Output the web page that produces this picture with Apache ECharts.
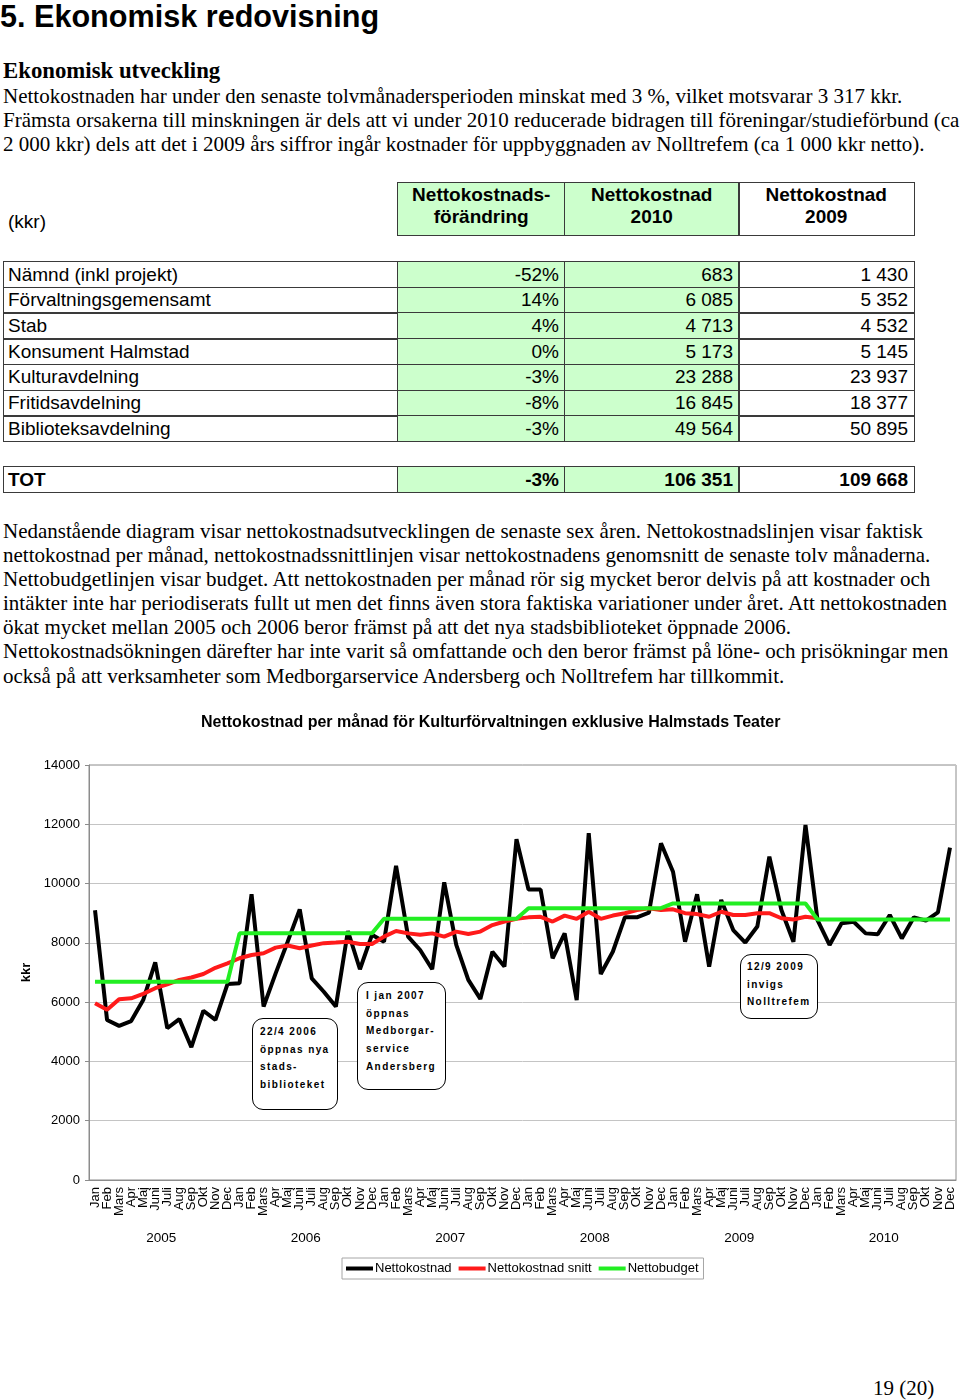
<!DOCTYPE html>
<html><head><meta charset="utf-8">
<script src="https://cdn.jsdelivr.net/npm/echarts@6/dist/echarts.min.js"></script>
<style>
html,body{margin:0;padding:0;background:#fff;}
body{width:960px;height:1400px;position:relative;overflow:hidden;}
.abs{position:absolute;white-space:nowrap;color:#000;}
.serif{font-family:"Liberation Serif","Times New Roman",serif;}
.sans{font-family:"Liberation Sans",Arial,sans-serif;}
.cell{position:absolute;box-sizing:border-box;border:1.5px solid #3a3a3a;display:flex;align-items:center;font-family:"Liberation Sans",Arial,sans-serif;font-size:19px;color:#000;white-space:nowrap;}
.g{background:#ccffcc;}
.note{position:absolute;box-sizing:border-box;border:1.3px solid #000;border-radius:11px;background:#fff;font-family:"Liberation Sans",Arial,sans-serif;font-weight:bold;font-size:10px;letter-spacing:1.4px;line-height:17.7px;color:#000;white-space:nowrap;z-index:5;}
#chart{position:absolute;left:0;top:700px;width:960px;height:600px;}
</style></head>
<body>
<div class="abs sans" style="left:0;top:-1px;font-size:30.6px;font-weight:bold;line-height:34px;">5. Ekonomisk redovisning</div>
<div class="abs serif" style="left:3px;top:58px;font-size:22.8px;font-weight:bold;line-height:26px;">Ekonomisk utveckling</div>
<div class="abs serif" style="left:3px;top:83.5px;font-size:21px;line-height:24px;">Nettokostnaden har under den senaste tolvmånadersperioden minskat med 3 %, vilket motsvarar 3 317 kkr.<br>Främsta orsakerna till minskningen är dels att vi under 2010 reducerade bidragen till föreningar/studieförbund (ca<br>2 000 kkr) dels att det i 2009 års siffror ingår kostnader för uppbyggnaden av Nolltrefem (ca 1 000 kkr netto).</div>
<div class="abs sans" style="left:8px;top:210px;font-size:19px;line-height:24px;">(kkr)</div>
<div id="tbl"></div>
<div class="abs serif" style="left:3px;top:518.5px;font-size:21px;line-height:24.17px;">Nedanstående diagram visar nettokostnadsutvecklingen de senaste sex åren. Nettokostnadslinjen visar faktisk<br>nettokostnad per månad, nettokostnadssnittlinjen visar nettokostnadens genomsnitt de senaste tolv månaderna.<br>Nettobudgetlinjen visar budget. Att nettokostnaden per månad rör sig mycket beror delvis på att kostnader och<br>intäkter inte har periodiserats fullt ut men det finns även stora faktiska variationer under året. Att nettokostnaden<br>ökat mycket mellan 2005 och 2006 beror främst på att det nya stadsbiblioteket öppnade 2006.<br>Nettokostnadsökningen därefter har inte varit så omfattande och den beror främst på löne- och prisökningar men<br>också på att verksamheter som Medborgarservice Andersberg och Nolltrefem har tillkommit.</div>
<div id="chart"></div>
<div class="note" style="left:252px;top:1018px;width:86px;height:92px;padding:4px 0 0 7px;">22/4 2006<br>öppnas nya<br>stads-<br>biblioteket</div>
<div class="note" style="left:357px;top:982px;width:89px;height:108px;padding:4px 0 0 8px;">I jan 2007<br>öppnas<br>Medborgar-<br>service<br>Andersberg</div>
<div class="note" style="left:740px;top:954px;width:78px;height:65px;padding:3px 0 0 6px;">12/9 2009<br>invigs<br>Nolltrefem</div>
<div class="abs serif" style="left:873px;top:1375.5px;font-size:21px;line-height:24px;">19 (20)</div>
<script>
// ---- table data ----
const headerLabels = ["Nettokostnads-<br>förändring", "Nettokostnad<br>2010", "Nettokostnad<br>2009"];
const rowLabels = ["Nämnd (inkl projekt)", "Förvaltningsgemensamt", "Stab", "Konsument Halmstad", "Kulturavdelning", "Fritidsavdelning", "Biblioteksavdelning"];
const changePct = ["-52%", "14%", "4%", "0%", "-3%", "-8%", "-3%"];
const cost2010 = ["683", "6 085", "4 713", "5 173", "23 288", "16 845", "49 564"];
const cost2009 = ["1 430", "5 352", "4 532", "5 145", "23 937", "18 377", "50 895"];
const totLabel = "TOT";
const totChange = "-3%";
const tot2010 = "106 351";
const tot2009 = "109 668";

// ---- chart data ----
const chartTitle = "Nettokostnad per månad för Kulturförvaltningen exklusive Halmstads Teater";
const years = ["2005", "2006", "2007", "2008", "2009", "2010"];
const months = ["Jan", "Feb", "Mars", "Apr", "Maj", "Juni", "Juli", "Aug", "Sep", "Okt", "Nov", "Dec"];
const seriesNames = ["Nettokostnad", "Nettokostnad snitt", "Nettobudget"];
const nettokostnad = [
  9100, 5400, 5200, 5360, 6070, 7340, 5120, 5430, 4480, 5710, 5400, 6610,
  6640, 9640, 5850, 6970, 8040, 9130, 6800, 6350, 5850, 8400, 7110, 8270,
  8040, 10600, 8210, 7760, 7110, 10040, 7930, 6750, 6110, 7700, 7200, 11500,
  9800, 9800, 7480, 8320, 6070, 11700, 6950, 7700, 8860, 8860, 9020, 11360,
  10400, 8040, 9640, 7200, 9450, 8430, 8010, 8550, 10910, 9110, 8040, 11980,
  8770, 7930, 8660, 8710, 8320, 8290, 8940, 8150, 8860, 8750, 9030, 11210
];
const nettokostnadSnitt = [
  5960, 5740, 6100, 6130, 6280, 6470, 6600, 6750, 6830, 6950, 7160, 7310,
  7480, 7590, 7650, 7840, 7910, 7820, 7910, 7990, 8010, 8040, 7960, 7960,
  8210, 8400, 8320, 8270, 8320, 8210, 8380, 8300, 8380, 8600, 8720, 8810,
  8860, 8880, 8720, 8920, 8810, 9050, 8810, 8920, 9000, 9110, 9170, 9110,
  9130, 9000, 8970, 8880, 9050, 8940, 8940, 9000, 9000, 8830, 8790, 8880,
  8830, null, null, null, null, null, null, null, null, null, null, null
];
const nettobudget = [
  6690, 6690, 6690, 6690, 6690, 6690, 6690, 6690, 6690, 6690, 6690, 6690,
  8320, 8320, 8320, 8320, 8320, 8320, 8320, 8320, 8320, 8320, 8320, 8320,
  8810, 8810, 8810, 8810, 8810, 8810, 8810, 8810, 8810, 8810, 8810, 8810,
  9170, 9170, 9170, 9170, 9170, 9170, 9170, 9170, 9170, 9170, 9170, 9170,
  9330, 9330, 9330, 9330, 9330, 9330, 9330, 9330, 9330, 9330, 9330, 9330,
  8790, 8790, 8790, 8790, 8790, 8790, 8790, 8790, 8790, 8790, 8790, 8790
];
const yTicks = { min: 0, max: 14000, interval: 2000 };

// ---- build table ----
(function () {
  const tbl = document.getElementById('tbl');
  const colX = [3, 397, 564, 738, 913];
  function cell(x0, x1, y0, y1, html, cls, align, bold) {
    const d = document.createElement('div');
    d.className = 'cell ' + (cls || '');
    d.style.left = x0 + 'px';
    d.style.top = y0 + 'px';
    d.style.width = (x1 - x0 + 1.5) + 'px';
    d.style.height = (y1 - y0 + 1.5) + 'px';
    d.style.justifyContent = align === 'right' ? 'flex-end' : (align === 'center' ? 'center' : 'flex-start');
    d.style.padding = align === 'right' ? '0 5.5px 0 0' : '0 0 0 4px';
    if (bold) d.style.fontWeight = 'bold';
    d.innerHTML = html;
    tbl.appendChild(d);
    return d;
  }
  for (let c = 0; c < 3; c++) {
    const d = cell(colX[c + 1], colX[c + 2], 182, 234.5, headerLabels[c], c < 2 ? 'g' : '', 'center', true);
    d.style.alignItems = 'flex-start';
    d.style.textAlign = 'center';
    d.style.lineHeight = '22px';
    d.style.padding = '1px 0 0 0';
  }
  const rowH = (441 - 261) / rowLabels.length;
  for (let r = 0; r < rowLabels.length; r++) {
    const y0 = 261 + r * rowH, y1 = y0 + rowH;
    cell(colX[0], colX[1], y0, y1, rowLabels[r], '', 'left');
    cell(colX[1], colX[2], y0, y1, changePct[r], 'g', 'right');
    cell(colX[2], colX[3], y0, y1, cost2010[r], 'g', 'right');
    cell(colX[3], colX[4], y0, y1, cost2009[r], '', 'right');
  }
  cell(colX[0], colX[1], 466, 491.5, totLabel, '', 'left', true);
  cell(colX[1], colX[2], 466, 491.5, totChange, 'g', 'right', true);
  cell(colX[2], colX[3], 466, 491.5, tot2010, 'g', 'right', true);
  cell(colX[3], colX[4], 466, 491.5, tot2009, '', 'right', true);
})();

// ---- chart ----
const categories = [];
years.forEach(function () { months.forEach(function (m) { categories.push(m); }); });
const chart = echarts.init(document.getElementById('chart'), null, { renderer: 'canvas' });
const axisGray = '#8c8c8c';
const font = '"Liberation Sans", Arial, sans-serif';
chart.setOption({
  animation: false,
  textStyle: { fontFamily: font },
  title: {
    text: chartTitle, left: 196, top: 10,
    textStyle: { fontFamily: font, fontWeight: 'bold', fontSize: 16, color: '#000' }
  },
  grid: { left: 89, right: 4, top: 65, bottom: 120, show: true, borderColor: axisGray, borderWidth: 1, backgroundColor: 'transparent' },
  legend: {
    left: 342, top: 558, data: seriesNames, icon: 'rect', itemWidth: 27, itemHeight: 4, itemGap: 7,
    borderColor: '#a6a6a6', borderWidth: 1, padding: [4, 5, 4, 4],
    textStyle: { fontSize: 13, color: '#000', fontFamily: font, padding: [0, 0, 0, -3] }
  },
  xAxis: [
    {
      type: 'category', data: categories, boundaryGap: true,
      axisLine: { lineStyle: { color: axisGray } },
      axisTick: { interval: 0, length: 35, lineStyle: { color: axisGray } },
      axisLabel: { interval: 0, rotate: 90, margin: 7, fontSize: 13, color: '#000', fontFamily: font },
      splitLine: { show: false }
    },
    {
      type: 'category', data: years, position: 'bottom', offset: 0, boundaryGap: true,
      axisLine: { show: false },
      axisTick: { interval: 0, length: 65, lineStyle: { color: axisGray } },
      axisLabel: { interval: 0, margin: 51, fontSize: 13.5, color: '#000', fontFamily: font },
      splitLine: { show: false }
    }
  ],
  yAxis: {
    type: 'value', min: yTicks.min, max: yTicks.max, interval: yTicks.interval,
    name: 'kkr', nameLocation: 'middle', nameGap: 41, nameRotate: 90,
    nameTextStyle: { fontWeight: 'bold', fontSize: 13, color: '#000', fontFamily: font },
    axisLine: { show: true, lineStyle: { color: axisGray } },
    axisTick: { show: true, length: 4, lineStyle: { color: axisGray } },
    axisLabel: { margin: 9, fontSize: 13, color: '#000', fontFamily: font, formatter: function (v) { return String(v); } },
    splitLine: { show: true, lineStyle: { color: '#c4c4c4', width: 1 } }
  },
  series: [
    { name: seriesNames[0], type: 'line', data: nettokostnad, symbol: 'none', lineStyle: { color: '#000', width: 4 }, itemStyle: { color: '#000' } },
    { name: seriesNames[1], type: 'line', data: nettokostnadSnitt, symbol: 'none', lineStyle: { color: '#ff1a1a', width: 4 }, itemStyle: { color: '#ff1a1a' } },
    { name: seriesNames[2], type: 'line', data: nettobudget, symbol: 'none', lineStyle: { color: '#22ee22', width: 4 }, itemStyle: { color: '#22ee22' } }
  ]
});
</script>
</body></html>
